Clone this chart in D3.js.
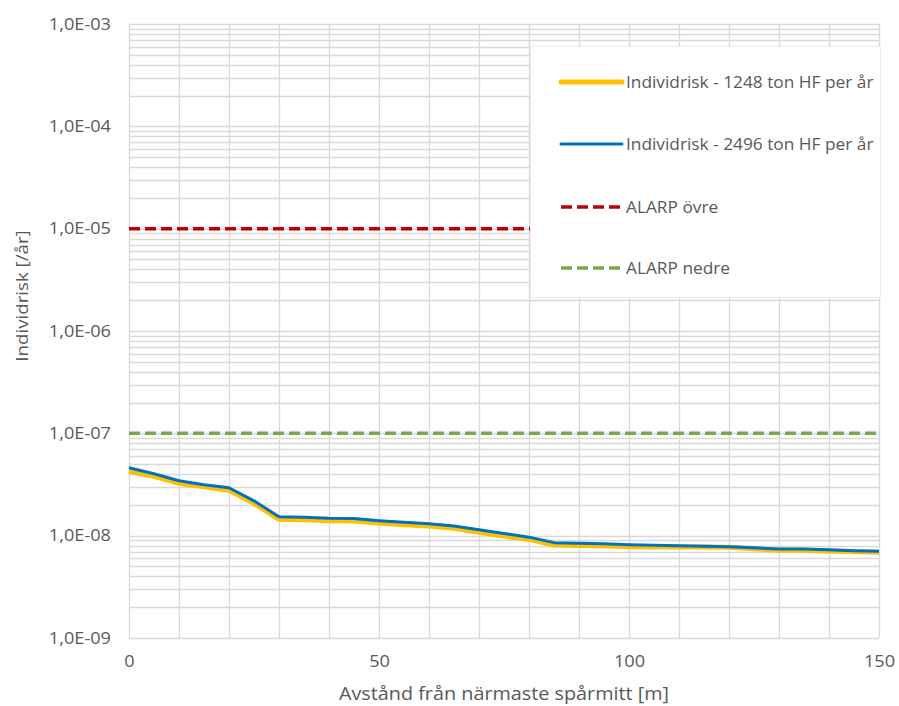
<!DOCTYPE html>
<html>
<head>
<meta charset="utf-8">
<script src="https://cdn.jsdelivr.net/npm/d3@7"></script>
<style>
	body { margin: 0; background: #fff; }
	text { font-family: "Open Sans", Lato, sans-serif; fill: #595959; }
</style>
</head>
<body>
<div id="chart"></div>
<script>
// distances along the x axis (m)
const distances = [0, 5, 10, 15, 20, 25, 30, 35, 40, 45, 50, 55, 60, 65, 70, 75, 80, 85, 90, 95, 100, 105, 110, 115, 120, 125, 130, 135, 140, 145, 150];

// Individrisk - 1248 ton HF per år
const risk1248 = [4.26e-8, 3.8e-8, 3.25e-8, 3.0e-8, 2.78e-8, 2.07e-8, 1.44e-8, 1.43e-8, 1.4e-8, 1.39e-8, 1.33e-8, 1.28e-8, 1.24e-8, 1.18e-8, 1.08e-8, 0.99e-8, 0.92e-8, 8.1e-9, 8.0e-9, 7.95e-9, 7.8e-9, 7.75e-9, 7.75e-9, 7.75e-9, 7.7e-9, 7.45e-9, 7.2e-9, 7.2e-9, 7.1e-9, 6.95e-9, 6.9e-9];

// Individrisk - 2496 ton HF per år
const risk2496 = [4.61e-8, 4.03e-8, 3.44e-8, 3.15e-8, 2.94e-8, 2.19e-8, 1.53e-8, 1.51e-8, 1.48e-8, 1.47e-8, 1.4e-8, 1.35e-8, 1.31e-8, 1.24e-8, 1.14e-8, 1.05e-8, 0.967e-8, 8.55e-9, 8.45e-9, 8.35e-9, 8.17e-9, 8.08e-9, 7.99e-9, 7.9e-9, 7.81e-9, 7.63e-9, 7.39e-9, 7.39e-9, 7.3e-9, 7.14e-9, 7.06e-9];

const alarpUpper = 1e-5;
const alarpLower = 1e-7;

const yTicks = [1e-9, 1e-8, 1e-7, 1e-6, 1e-5, 1e-4, 1e-3];
const yTickLabels = ["1,0E-09", "1,0E-08", "1,0E-07", "1,0E-06", "1,0E-05", "1,0E-04", "1,0E-03"];
const xTicks = [0, 50, 100, 150];
const xGrid = d3.range(0, 151, 10);

const legendLabels = ["Individrisk - 1248 ton HF per år", "Individrisk - 2496 ton HF per år", "ALARP övre", "ALARP nedre"];

const width = 899, height = 706;
const plot = { left: 129, right: 879, top: 24, bottom: 638 };
// the original font is a bit wider than Open Sans, so widen the glyphs
const stretch = 1.1;

let svg = d3.select("#chart").append("svg").attr("width", width).attr("height", height);

let x = d3.scaleLinear().domain([0, 150]).range([plot.left, plot.right]);
let y = d3.scaleLog().domain([1e-9, 1e-3]).range([plot.bottom, plot.top]);

function widen(sel, k) {
	sel.each(function () {
		let len = this.getComputedTextLength();
		d3.select(this).attr("textLength", len * (k || stretch)).attr("lengthAdjust", "spacingAndGlyphs");
	});
}

// horizontal grid: every major and minor log tick
let hLines = [];
for (let e = -9; e < -3; e++) {
	for (let m = 1; m < 10; m++) hLines.push(m * Math.pow(10, e));
}
hLines.push(1e-3);

let grid = svg.append("g").attr("stroke", "#d9d9d9").attr("stroke-width", 1.3);
grid.selectAll(".h")
	.data(hLines)
	.enter()
	.append("line")
	.attr("x1", plot.left)
	.attr("x2", plot.right)
	.attr("y1", (d) => Math.round(y(d)) + 0.5)
	.attr("y2", (d) => Math.round(y(d)) + 0.5);
grid.selectAll(".v")
	.data(xGrid)
	.enter()
	.append("line")
	.attr("y1", plot.top)
	.attr("y2", plot.bottom)
	.attr("x1", (d) => Math.round(x(d)) + 0.5)
	.attr("x2", (d) => Math.round(x(d)) + 0.5);

// axis labels
let yAxis = d3.axisLeft(y).tickValues(yTicks).tickSize(0).tickPadding(18).tickFormat((d, i) => yTickLabels[i]);
let yG = svg.append("g").attr("transform", `translate(${plot.left},0)`).call(yAxis);
let xAxis = d3.axisBottom(x).tickValues(xTicks).tickSize(0).tickPadding(17);
let xG = svg.append("g").attr("transform", `translate(0,${plot.bottom})`).call(xAxis);
[yG, xG].forEach((g) => {
	g.select(".domain").remove();
	g.selectAll("text").style("font-family", "'Open Sans', sans-serif").style("font-size", "16.5px").attr("fill", "#595959");
	widen(g.selectAll("text"));
});

// ALARP lines
svg.append("line")
	.attr("x1", x(0)).attr("x2", x(150))
	.attr("y1", y(alarpUpper)).attr("y2", y(alarpUpper))
	.attr("stroke", "#c00000").attr("stroke-width", 3.5).attr("stroke-dasharray", "11,5");
svg.append("line")
	.attr("x1", x(0)).attr("x2", x(150))
	.attr("y1", y(alarpLower)).attr("y2", y(alarpLower))
	.attr("stroke", "#70ad47").attr("stroke-width", 3.5).attr("stroke-dasharray", "11,5");

// risk lines
let line = d3.line().x((d, i) => x(distances[i])).y((d) => y(d));
svg.append("path").datum(risk1248).attr("d", line).attr("fill", "none")
	.attr("stroke", "#ffc000").attr("stroke-width", 5).attr("stroke-linejoin", "round");
svg.append("path").datum(risk2496).attr("d", line).attr("fill", "none")
	.attr("stroke", "#0070c0").attr("stroke-width", 3).attr("stroke-linejoin", "round");

// legend
let legend = svg.append("g").attr("id", "legend");
legend.append("rect")
	.attr("x", 530.5).attr("y", 46.5).attr("width", 350).attr("height", 251)
	.attr("fill", "#fff").attr("stroke", "#ececec");
let legendStyles = [
	{ color: "#ffc000", w: 5, dash: null },
	{ color: "#0070c0", w: 3, dash: null },
	{ color: "#c00000", w: 3.5, dash: "11,5" },
	{ color: "#70ad47", w: 3.5, dash: "11,5" },
];
let legendY = [82, 144, 207, 268];
legend.selectAll("g.item")
	.data(legendLabels)
	.enter()
	.append("g")
	.attr("class", "item")
	.each(function (d, i) {
		let g = d3.select(this);
		g.append("line")
			.attr("x1", 561).attr("x2", 622)
			.attr("y1", legendY[i]).attr("y2", legendY[i])
			.attr("stroke", legendStyles[i].color)
			.attr("stroke-width", legendStyles[i].w)
			.attr("stroke-dasharray", legendStyles[i].dash)
			.attr("stroke-linecap", i < 2 ? "round" : "butt");
		g.append("text")
			.attr("x", 626).attr("y", legendY[i])
			.attr("dy", "0.35em")
			.style("font-size", "16px")
			.text(d);
	});
widen(legend.selectAll("text"), 1.08);

// axis titles
let xTitle = svg.append("text")
	.attr("x", (plot.left + plot.right) / 2).attr("y", 694)
	.attr("dy", "0.35em")
	.attr("text-anchor", "middle")
	.style("font-size", "18px")
	.text("Avstånd från närmaste spårmitt [m]");
let yTitle = svg.append("text")
	.attr("transform", "translate(22,296) rotate(-90)")
	.attr("dy", "0.35em")
	.attr("text-anchor", "middle")
	.style("font-size", "17px")
	.text("Individrisk [/år]");
widen(xTitle);
widen(yTitle);
</script>
</body>
</html>
